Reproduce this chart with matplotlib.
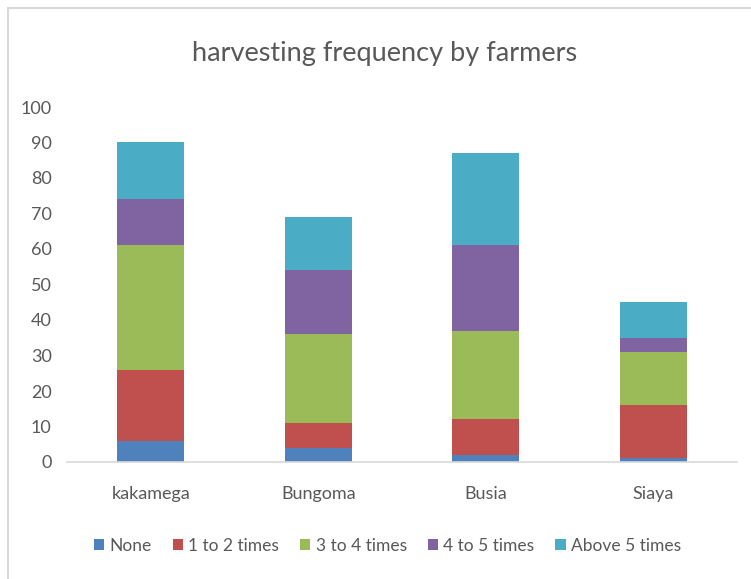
import matplotlib
matplotlib.use('Agg')
import matplotlib.pyplot as plt
from matplotlib.patches import Rectangle
import numpy as np

# === data ===
districts = ['kakamega', 'Bungoma', 'Busia', 'Siaya']
series_names = ['None', '1 to 2 times', '3 to 4 times', '4 to 5 times', 'Above 5 times']
none_vals = [6, 4, 2, 1]
one_two = [20, 7, 10, 15]
three_four = [35, 25, 25, 15]
four_five = [13, 18, 24, 4]
above_five = [16, 15, 26, 10]
colors = ['#4f81bd', '#c0504d', '#9bbb59', '#8064a2', '#4bacc6']

plt.rcParams['font.family'] = ['Lato', 'DejaVu Sans']
text_col = '#595959'

fig = plt.figure(figsize=(7.51, 5.79), dpi=100)
# chart area border (only top/left edges show in the crop)
fig.patches.append(Rectangle((8 / 751, -0.1), 1.2, 1 - 8 / 579 + 0.1, transform=fig.transFigure,
                             fill=False, edgecolor='#d9d9d9', linewidth=1.5))

ax = fig.add_axes([67 / 751, 1 - 462 / 579, 670 / 751, 355 / 579])
x = np.arange(len(districts))
bottom = np.zeros(len(districts))
all_series = [none_vals, one_two, three_four, four_five, above_five]
for name, vals, c in zip(series_names, all_series, colors):
    ax.bar(x, vals, width=0.4, bottom=bottom, color=c, label=name, zorder=2)
    bottom += np.array(vals)

ax.set_xlim(-0.5, 3.5)
ax.set_ylim(0, 100)
ax.set_yticks(range(0, 101, 10))
ax.set_xticks(x)
ax.set_xticklabels(districts)
for s in ['top', 'right', 'left']:
    ax.spines[s].set_visible(False)
ax.spines['bottom'].set_color('#d9d9d9')
ax.spines['bottom'].set_linewidth(1.2)
ax.tick_params(axis='y', length=0, pad=11, labelsize=13, labelcolor=text_col)
ax.tick_params(axis='x', length=0, pad=17, labelsize=13, labelcolor=text_col)

fig.text(0.512, 1 - 54 / 579, 'harvesting frequency by farmers', ha='center', va='center',
         fontsize=19.5, color=text_col)

fig.legend(loc='center', bbox_to_anchor=(0.516, 1 - 546 / 579), ncol=5, frameon=False,
           fontsize=12.5, labelcolor=text_col, handlelength=0.6, handleheight=0.6,
           handletextpad=0.3, columnspacing=1.2)

fig.savefig('out.png', dpi=100)
